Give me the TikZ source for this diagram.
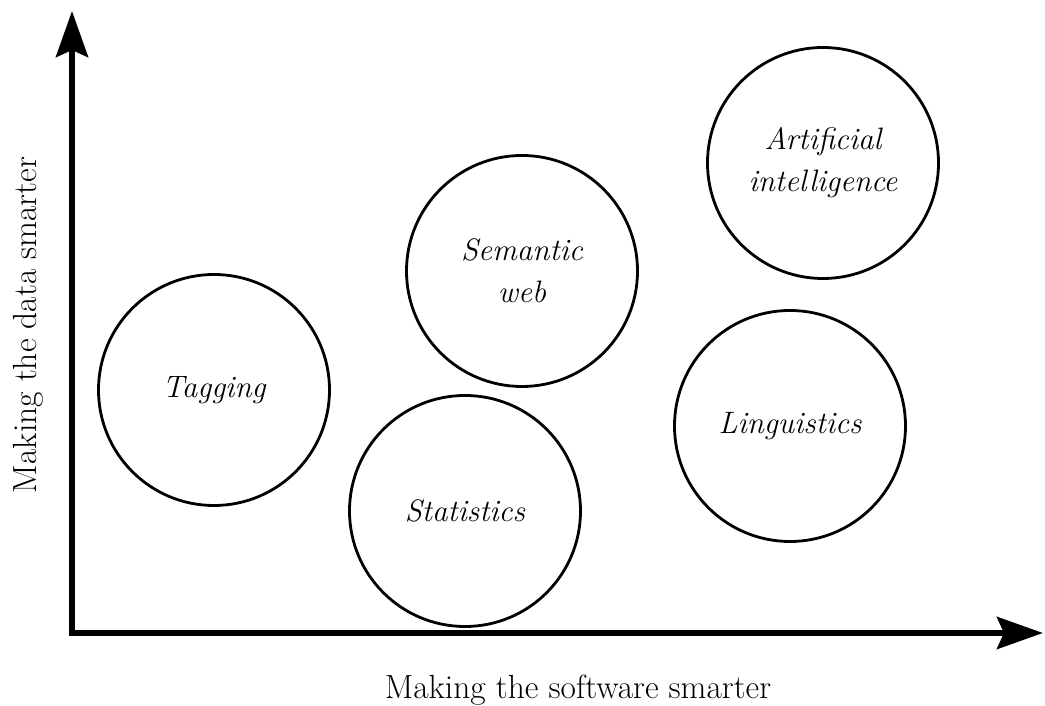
\documentclass[tikz,border=0pt]{standalone}
\usepackage{fontspec}
\usetikzlibrary{arrows.meta}
\tikzset{topic/.style=
	{circle,
		draw,
		line width=2.8pt,
		minimum size=231pt,
		inner sep=0pt,
		align=center,
		font=\fontsize{31}{42}\selectfont\itshape},
	axis arrow/.style=
	{{Stealth[length=46pt,width=32pt,inset=7pt]}-{Stealth[length=46pt,width=32pt,inset=7pt]},
		line width=6pt},
	axis label/.style={font=\fontsize{33.5}{40}\selectfont, inner sep=0pt},
}

\begin{document}
\begin{tikzpicture}[x=1pt,y=1pt,line join=miter]
	\useasboundingbox (0,0) rectangle (1045,706);
	
	% axes
	\coordinate (origin) at (72,73);
	\coordinate (ytip) at (72,695);
	\coordinate (xtip) at (1043,73);
	\draw[axis arrow] (ytip) -- (origin) -- (xtip);
	
	\node[axis label, anchor=base] (xlabel) at (578,7) {Making the software smarter};
	\node[axis label, rotate=90, anchor=base] (ylabel) at (36,381) {Making the data smarter};
	
	% fields
	\node[topic] (tagging) at (214,316) {Tagging};
	\node[topic] (statistics) at (465,195) {Statistics};
	\node[topic] (semantic) at (522,435) {Semantic\\web};
	\node[topic] (linguistics) at (790,280) {Linguistics};
	\node[topic] (ai) at (823,543) {Artificial\\intelligence};
\end{tikzpicture}
\end{document}
